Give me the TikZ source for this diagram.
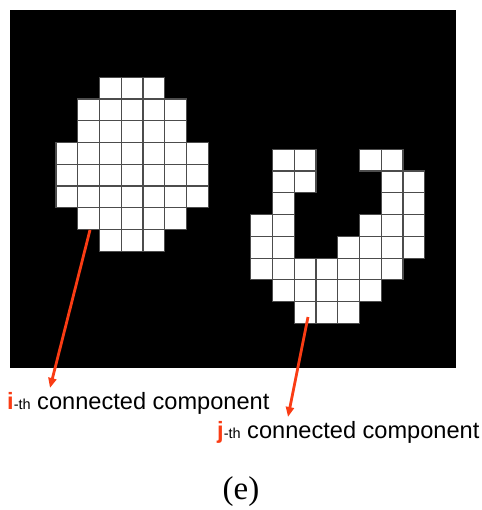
\documentclass[tikz,border=0pt]{standalone}
\usepackage{fontspec}
\setmainfont{Liberation Serif}
\newfontfamily\labelfont{Liberation Sans}
\usepackage{xcolor}
\usetikzlibrary{arrows.meta}
\definecolor{arrowred}{RGB}{250,60,20}
\def\cs{21.75}

\begin{document}
\begin{tikzpicture}[x=1pt,y=-1pt,
    cell/.style={draw=gray!60!black,line width=1.1pt,fill=white},
    pointer/.style={-{Triangle[length=10pt,width=8pt]},line width=2.8pt,arrowred},
    tag/.style={anchor=base west,inner sep=0pt,font=\labelfont\fontsize{23.6}{28}\selectfont}
]
\useasboundingbox (0,0) rectangle (481,510);
\fill[black] (10,10) rectangle (456,368);
% first blob, rows top to bottom
\begin{scope}[shift={(56,77.3)}]
\foreach \r/\cols in {0/{2,3,4},1/{1,2,3,4,5},2/{1,2,3,4,5},3/{0,1,2,3,4,5,6},
    4/{0,1,2,3,4,5,6},5/{0,1,2,3,4,5,6},6/{1,2,3,4,5},7/{2,3,4}}
    \foreach \c in \cols
        \draw[cell] (\c*\cs,\r*\cs) rectangle ++(\cs,\cs);
\end{scope}
% second blob, open at the top
\begin{scope}[shift={(250.7,149.3)}]
\foreach \r/\cols in {0/{1,2,5,6},1/{1,2,6,7},2/{1,6,7},3/{0,1,5,6,7},
    4/{0,1,4,5,6,7},5/{0,1,2,3,4,5,6},6/{1,2,3,4,5},7/{2,3,4}}
    \foreach \c in \cols
        \draw[cell] (\c*\cs,\r*\cs) rectangle ++(\cs,\cs);
\end{scope}
\coordinate (ifrom) at (90,230);
\coordinate (ito) at (50,388);
\coordinate (jfrom) at (308,317);
\coordinate (jto) at (288,417);
\node[tag] (ilabel) at (7,409) {{\color{arrowred}\bfseries i}{\fontsize{14.5}{16}\selectfont-th} connected component};
\node[tag] (jlabel) at (217,438) {{\color{arrowred}\bfseries j}{\fontsize{14.5}{16}\selectfont-th} connected component};
\draw[pointer] (ifrom) -- (ito);
\draw[pointer] (jfrom) -- (jto);
\node[font=\fontsize{33}{36}\selectfont] (caption) at (241,492) {(e)};
\end{tikzpicture}
\end{document}
